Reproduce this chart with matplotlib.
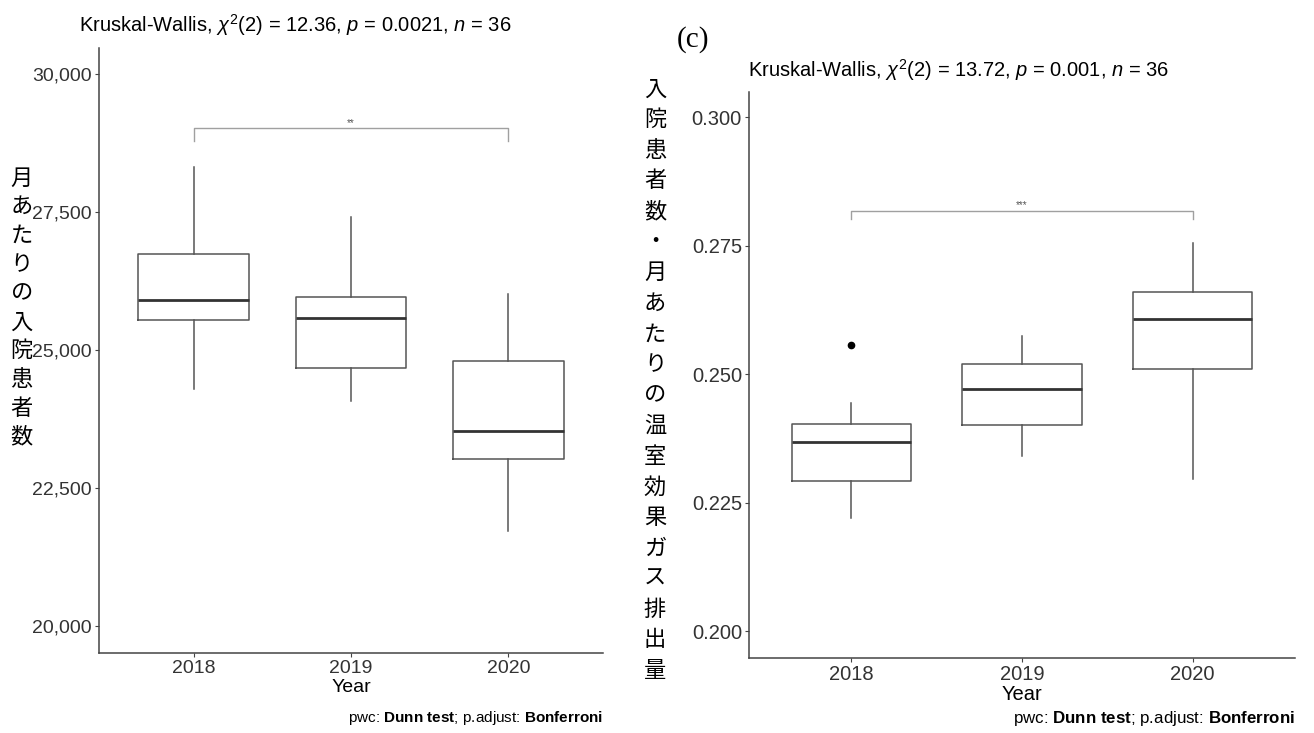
import matplotlib
matplotlib.use("Agg")
import matplotlib.pyplot as plt

plt.rcParams['font.family'] = ['Liberation Sans', 'DejaVu Sans']
plt.rcParams['mathtext.fontset'] = 'custom'
plt.rcParams['mathtext.rm'] = 'Liberation Sans'
plt.rcParams['mathtext.it'] = 'Liberation Sans:italic'
plt.rcParams['mathtext.bf'] = 'Liberation Sans:bold'

years = ["2018", "2019", "2020"]

# left panel: monthly inpatients
pat_whislo = [24297, 24073, 21715]
pat_q1 = [25533, 24673, 23018]
pat_med = [25903, 25570, 23527]
pat_q3 = [26740, 25958, 24800]
pat_whishi = [28315, 27406, 26012]
pat_fliers = [[], [], []]
pat_bracket = (29013, 28781)
pat_sig = "**"

# right panel: GHG emissions per inpatient per month
ghg_whislo = [0.2220, 0.2342, 0.2296]
ghg_q1 = [0.2293, 0.2401, 0.2511]
ghg_med = [0.2369, 0.2472, 0.2608]
ghg_q3 = [0.2403, 0.2520, 0.2660]
ghg_whishi = [0.2445, 0.2575, 0.2755]
ghg_fliers = [[0.2557], [], []]
ghg_bracket = (0.2819, 0.2802)
ghg_sig = "***"

title_l = r"Kruskal-Wallis, $\chi^2$(2) = 12.36, $p$ = 0.0021, $n$ = 36"
title_r = r"Kruskal-Wallis, $\chi^2$(2) = 13.72, $p$ = 0.001, $n$ = 36"
caption = r"pwc: $\bf{Dunn\ test}$; p.adjust: $\bf{Bonferroni}$"
ylab_l = "月あたりの入院患者数"
ylab_r = "入院患者数・月あたりの温室効果ガス排出量"

W, H = 1314, 733
fig = plt.figure(figsize=(W / 100, H / 100), dpi=100)
ax1 = fig.add_axes([99 / W, 1 - 653.3 / H, 504 / W, 605.3 / H])
ax2 = fig.add_axes([748.9 / W, 1 - 657.7 / H, 546 / W, 565.4 / H])


def draw(ax, lo, q1, med, q3, hi, fl, ylim, yticks, yfmt, bracket, sig, fs):
    stats = []
    for i in range(len(years)):
        stats.append(dict(whislo=lo[i], q1=q1[i], med=med[i], q3=q3[i],
                          whishi=hi[i], fliers=fl[i]))
    ax.bxp(stats, positions=[1, 2, 3], widths=0.7, showcaps=False,
           boxprops=dict(color="#555555", linewidth=1.1),
           whiskerprops=dict(color="#555555", linewidth=1.1),
           medianprops=dict(color="#333333", linewidth=2.0),
           flierprops=dict(marker="o", markersize=4.5, markerfacecolor="black",
                           markeredgecolor="black"))
    ax.set_xlim(0.4, 3.6)
    ax.set_ylim(*ylim)
    ax.set_xticks([1, 2, 3])
    ax.set_xticklabels(years)
    ax.set_yticks(yticks)
    ax.set_yticklabels([yfmt(v) for v in yticks])
    for s in ["top", "right"]:
        ax.spines[s].set_visible(False)
    for s in ["left", "bottom"]:
        ax.spines[s].set_color("#444444")
        ax.spines[s].set_linewidth(1.1)
    ax.tick_params(length=3, width=0.8, color="#444444", labelsize=fs,
                   labelcolor="#333333", pad=2)
    ax.set_xlabel("Year", fontsize=fs, labelpad=1)
    # significance bracket
    ax.plot([1, 1, 3, 3], [bracket[1], bracket[0], bracket[0], bracket[1]],
            color="#a0a0a0", linewidth=1.0)
    ax.text(2, bracket[0], sig, ha="center", va="bottom", fontsize=7,
            color="#555555")


draw(ax1, pat_whislo, pat_q1, pat_med, pat_q3, pat_whishi, pat_fliers,
     (19500, 30466), [20000, 22500, 25000, 27500, 30000],
     lambda v: f"{v:,}", pat_bracket, pat_sig, 14)
draw(ax2, ghg_whislo, ghg_q1, ghg_med, ghg_q3, ghg_whishi, ghg_fliers,
     (0.1949, 0.3049), [0.200, 0.225, 0.250, 0.275, 0.300],
     lambda v: f"{v:.3f}", ghg_bracket, ghg_sig, 14.5)

fig.text(79 / W, 1 - 25 / H, title_l, ha="left", va="center", fontsize=14.5)
fig.text(748 / W, 1 - 70 / H, title_r, ha="left", va="center", fontsize=14.5)
fig.text(603 / W, 1 - 718 / H, caption, ha="right", va="center", fontsize=11)
fig.text(1295 / W, 1 - 718 / H, caption, ha="right", va="center", fontsize=12.2)
fig.text(677 / W, 1 - 40 / H, "(c)", ha="left", va="center", fontsize=21,
         family="Liberation Serif")

# vertical Japanese y labels, one character per line
for i, ch in enumerate(ylab_l):
    fig.text(21.7 / W, 1 - (178 + i * 28.8) / H, ch, ha="center", va="center",
             fontsize=16, family=["Noto Sans CJK JP"])
for i, ch in enumerate(ylab_r):
    fig.text(655 / W, 1 - (89 + i * 30.6) / H, ch, ha="center", va="center",
             fontsize=16, family=["Noto Sans CJK JP"])

fig.savefig("out.png", dpi=100, facecolor="white")
